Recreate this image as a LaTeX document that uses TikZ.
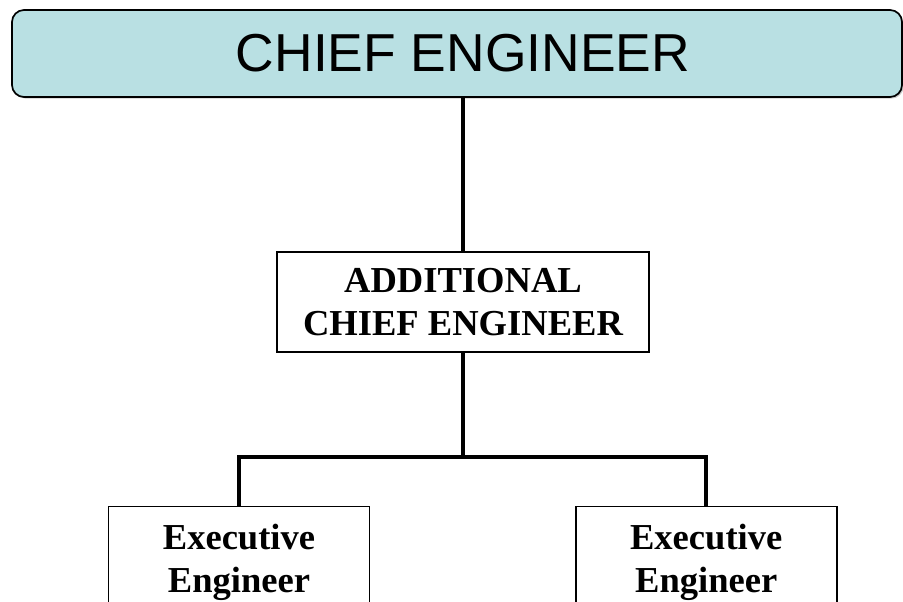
\documentclass[tikz,border=0pt]{standalone}
\usepackage{fontspec}
\setmainfont{Liberation Serif}
\newfontfamily\arialfont{Liberation Sans}
\usetikzlibrary{positioning, shadows}
\definecolor{chiefcyan}{RGB}{185,224,227}
\tikzstyle{chiefbox} = [rectangle, rounded corners=0.3cm, minimum width=22.25cm, minimum height=2.175cm, text centered, draw=black, line width=1.2pt, fill=chiefcyan, drop shadow={shadow xshift=0.04cm, shadow yshift=-0.04cm, fill=black!40}, font=\arialfont\fontsize{38}{42}\selectfont]
\tikzstyle{officebox} = [rectangle, minimum height=2.5cm, align=center, draw=black, line width=1.2pt, fill=white, font=\bfseries\fontsize{26}{30.5}\selectfont]
\tikzstyle{link} = [line width=2.8pt, line cap=rect]

\begin{document}
\begin{tikzpicture}
        \clip (0,0) rectangle (22.575,-15.025);

        % Nodes
        \node (chief) [chiefbox] at (11.425,-1.3375) {\hspace*{0.3cm}CHIEF ENGINEER};
        \node (addl) [officebox, minimum width=9.3cm, below=3.825cm of chief, xshift=0.15cm] {ADDITIONAL\\CHIEF ENGINEER};
        \path (addl.south) ++(0,-2.6) coordinate (bus);
        \node (execL) [officebox, minimum width=6.525cm, minimum height=2.8cm, below=3.825cm of addl, xshift=-5.6cm] {Executive\\Engineer};
        \node (execR) [officebox, minimum width=6.525cm, minimum height=2.8cm, below=3.825cm of addl, xshift=6.08cm] {Executive\\Engineer};

        % Lines
        \draw [link] (addl.north) -- (addl.north |- chief.south);
        \draw [link] (addl.south) -- (bus);
        \draw [link, line cap=butt] (execL.north) -- (execL.north |- bus) -- (execR.north |- bus) -- (execR.north);
\end{tikzpicture}
\end{document}
